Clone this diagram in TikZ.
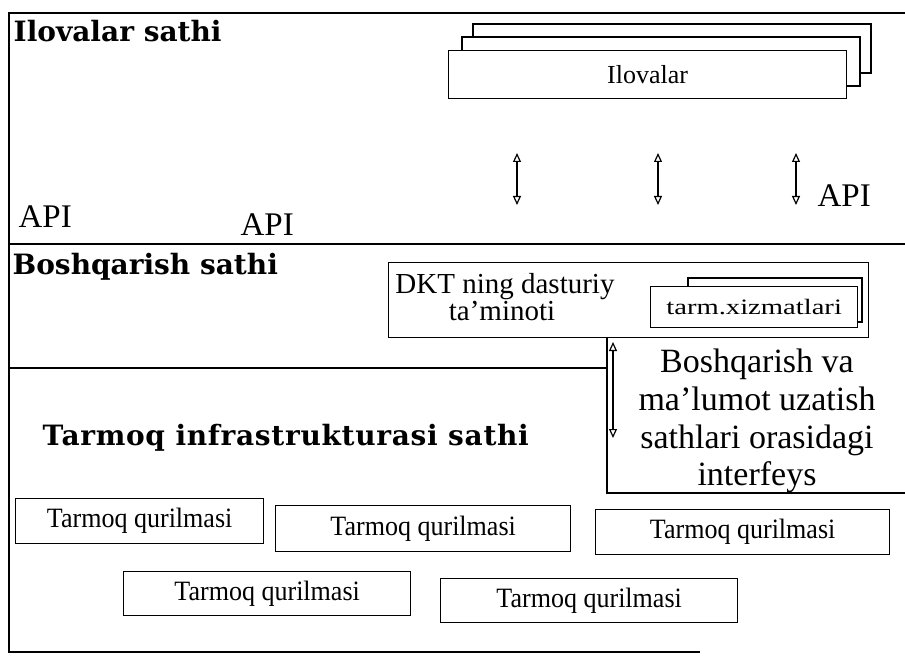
\documentclass[tikz,border=0pt]{standalone}
\usepackage{fontspec}
\setmainfont{Liberation Serif}
\newfontfamily\headfont{DejaVu Serif}
\newfontfamily\headwide{DejaVu Serif}[LetterSpace=2.5]
\usetikzlibrary{arrows.meta}
\begin{document}
\begin{tikzpicture}[x=1pt,y=-1pt,line width=1.3pt,
  frame/.style={line width=1.5pt},
  boxsh/.style={draw,fill=white,line width=1.3pt},
  layerhead/.style={inner sep=0pt,anchor=base west,font=\headfont\bfseries\fontsize{28}{32}\selectfont},
  apitext/.style={inner sep=0pt,anchor=base west,font=\fontsize{33}{38}\selectfont},
  lineT/.style={inner sep=0pt,anchor=base},
  devtext/.style={font=\fontsize{28}{30}\selectfont},
  dbl/.style={{Triangle[open,length=9pt,width=8pt]}-{Triangle[open,length=9pt,width=8pt]},line width=1.2pt}]
\useasboundingbox (0,0) rectangle (905,668);

% outer frame and layer dividers
\draw[frame] (905,13) -- (9,13) -- (9,652) -- (700,652);
\draw[frame] (9,244) -- (905,244);
\draw[frame] (9,368) -- (607,368);

% application layer
\node[layerhead] (appL) at (13,42) {Ilovalar sathi};
\draw[boxsh] (473,24) rectangle (871,73);
\draw[boxsh] (462,37) rectangle (860,86);
\node[boxsh,minimum width=398pt,minimum height=48pt,anchor=north west,
  font=\fontsize{26}{30}\selectfont] (apps) at (448,50) {Ilovalar};

\coordinate (a1t) at (517,153); \coordinate (a1b) at (517,205);
\coordinate (a2t) at (658,153); \coordinate (a2b) at (658,205);
\coordinate (a3t) at (796,153); \coordinate (a3b) at (796,205);
\draw[dbl] (a1t) -- (a1b);
\draw[dbl] (a2t) -- (a2b);
\draw[dbl] (a3t) -- (a3b);

\node[apitext] (api1) at (18,228) {API};
\node[apitext] (api2) at (240,236) {API};
\node[apitext] (api3) at (817,207) {API};

% control layer
\node[layerhead] (ctlL) at (12,275) {Boshqarish sathi};
\node[draw,minimum width=480pt,minimum height=75pt,anchor=north west,inner sep=0pt] (dkt) at (388,262) {};
\node[lineT,font=\fontsize{29}{30}\selectfont] (dktA) at (505,294) {DKT ning dasturiy};
\node[lineT,font=\fontsize{29}{30}\selectfont] (dktB) at (502,321) {ta’minoti};
\draw[boxsh] (688,278) rectangle (862,322);
\node[boxsh,minimum width=207pt,minimum height=41pt,anchor=north west,inner sep=0pt,
  font=\fontsize{22}{24}\selectfont] (srv) at (650,286) {\scalebox{1.3}[1]{tarm.xizmatlari}};

% interface between control and data layers
\coordinate (ifTop) at (607,337);
\coordinate (ifCorner) at (607,493);
\coordinate (ifEnd) at (905,493);
\draw[frame] (ifTop) -- (ifCorner) -- (ifEnd);
\coordinate (ia) at (613,342); \coordinate (ib) at (613,438);
\draw[dbl] (ia) -- (ib);
\begin{scope}[every node/.style={lineT,font=\fontsize{34}{38}\selectfont}]
\node (if1) at (757,372) {Boshqarish va};
\node (if2) at (757,410) {ma’lumot uzatish};
\node (if3) at (757,448) {sathlari orasidagi};
\node (if4) at (757,485) {interfeys};
\end{scope}

% infrastructure layer
\node[layerhead,font=\headwide\bfseries\fontsize{28}{32}\selectfont] (infL) at (42,445) {Tarmoq infrastrukturasi sathi};
\node[draw,devtext,minimum width=248pt,minimum height=45pt,anchor=north west] (d1) at (15,498) {\scalebox{0.93}[1]{Tarmoq qurilmasi}};
\node[draw,devtext,minimum width=295pt,minimum height=46pt,anchor=north west] (d2) at (275,505) {\scalebox{0.93}[1]{Tarmoq qurilmasi}};
\node[draw,devtext,minimum width=294pt,minimum height=45pt,anchor=north west] (d3) at (595,509) {\scalebox{0.93}[1]{Tarmoq qurilmasi}};
\node[draw,devtext,minimum width=287pt,minimum height=44pt,anchor=north west] (d4) at (123,571) {\scalebox{0.93}[1]{Tarmoq qurilmasi}};
\node[draw,devtext,minimum width=297pt,minimum height=44pt,anchor=north west] (d5) at (440,578) {\scalebox{0.93}[1]{Tarmoq qurilmasi}};
\end{tikzpicture}
\end{document}
